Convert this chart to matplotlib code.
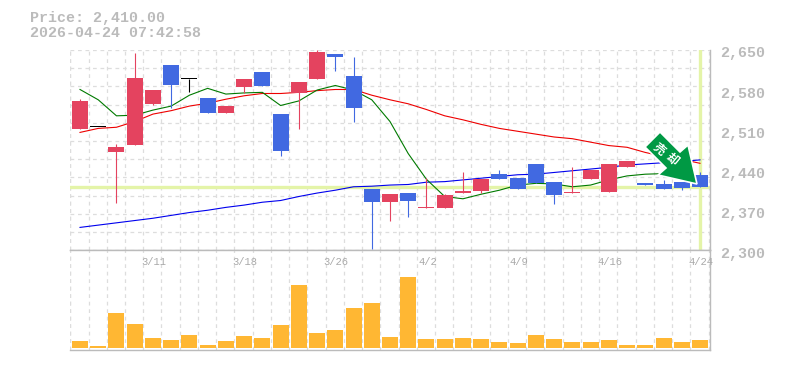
import matplotlib
matplotlib.use("Agg")
import matplotlib.pyplot as plt
from matplotlib.patches import Polygon

# valores
opens = [2512, 2515, 2472, 2484, 2556, 2624, 2600, 2566, 2540, 2585, 2612, 2538, 2575, 2599, 2643, 2605, 2407, 2384, 2400, 2374, 2374, 2400, 2404, 2433, 2426, 2451, 2419, 2400, 2425, 2402, 2446, 2418, 2416, 2419, 2432]
closes = [2561, 2515, 2480, 2601, 2580, 2589, 2600, 2540, 2552, 2599, 2587, 2474, 2594, 2646, 2638, 2549, 2384, 2398, 2386, 2376, 2397, 2403, 2425, 2425, 2407, 2418, 2397, 2402, 2441, 2451, 2456, 2414, 2407, 2409, 2410]
highs = [2564, 2515, 2486, 2645, 2580, 2624, 2600, 2566, 2552, 2599, 2612, 2538, 2594, 2650, 2643, 2638, 2407, 2398, 2400, 2426, 2399, 2437, 2425, 2440, 2426, 2451, 2419, 2446, 2441, 2451, 2456, 2418, 2423, 2419, 2437]
lows = [2512, 2515, 2383, 2484, 2554, 2549, 2577, 2540, 2540, 2575, 2587, 2465, 2512, 2599, 2614, 2524, 2302, 2351, 2358, 2374, 2374, 2400, 2400, 2425, 2407, 2418, 2381, 2400, 2425, 2402, 2446, 2414, 2407, 2405, 2410]
ma_verde = [2581, 2563, 2535, 2536, 2545, 2552, 2571, 2583, 2573, 2575, 2576, 2553, 2561, 2580, 2588, 2580, 2563, 2525, 2469, 2424, 2394, 2390, 2398, 2405, 2414, 2417, 2416, 2411, 2414, 2423, 2430, 2433, 2434, 2433, 2427]
ma_rojo = [2506, 2513, 2515, 2525, 2538, 2544, 2552, 2557, 2564, 2570, 2574, 2574, 2576, 2579, 2581, 2581, 2571, 2563, 2556, 2546, 2535, 2528, 2520, 2513, 2508, 2503, 2498, 2495, 2489, 2483, 2480, 2471, 2464, 2459, 2452]
ma_azul = [2340, 2344, 2348, 2352, 2356, 2361, 2366, 2370, 2375, 2379, 2384, 2387, 2394, 2400, 2405, 2411, 2412, 2414, 2415, 2419, 2420, 2423, 2426, 2429, 2432, 2433, 2436, 2439, 2442, 2445, 2449, 2451, 2453, 2455, 2458]
volumen = [21, 6, 105, 72, 30, 24, 39, 9, 21, 36, 30, 69, 189, 45, 54, 120, 135, 33, 213, 27, 27, 30, 27, 18, 15, 39, 27, 18, 18, 24, 9, 9, 30, 18, 24]
precio_ticks = [2300, 2370, 2440, 2510, 2580, 2650]
fecha_pos = [4, 9, 14, 19, 24, 29, 34]
fecha_labels = ["3/11", "3/18", "3/26", "4/2", "4/9", "4/16", "4/24"]
precio_actual = 2410
ultimo_idx = 34

ROJO = "#E4435F"
AZUL = "#4169E1"
VERDE_CLARO = "#E4F4A8"
GRIS = "#BBBBBB"
GRID = "#DDDDDD"
FUENTE = "Liberation Mono"

W, H = 785, 370
fig = plt.figure(figsize=(W / 100, H / 100), dpi=100)
x0, x1 = 70.3, 710.3
ax = fig.add_axes([x0 / W, 1 - 250.3 / H, (x1 - x0) / W, 200.3 / H])
axv = fig.add_axes([x0 / W, 1 - 350.3 / H, (x1 - x0) / W, 100 / H])

paso = 18.235
xlim = (-9.7 / paso, (x1 - 80) / paso)
grid_x = [xlim[0] + k for k in range(36)]

for a in (ax, axv):
    a.set_xlim(xlim)
    a.set_xticks(grid_x)
    a.tick_params(length=0, labelbottom=False, labelleft=False)
    a.grid(True, axis="x", color=GRID, ls=(0, (3, 3)), lw=0.9)
    a.set_axisbelow(True)
    a.spines["top"].set_visible(False)
    a.spines["left"].set_visible(False)
    a.spines["right"].set_color(GRIS)
    a.spines["bottom"].set_color(GRIS)
    a.spines["right"].set_linewidth(1)
    a.spines["bottom"].set_linewidth(1)
    a.axvline(xlim[0], color=GRID, ls=(0, (3, 3)), lw=0.9, zorder=0)

# panel de precio
ax.set_ylim(2300, 2650)
grid_y = [2300 + 350 * k / 11 for k in range(12)]
ax.set_yticks(grid_y)
ax.grid(True, axis="y", color=GRID, ls=(0, (3, 3)), lw=0.9)

ax.axhline(precio_actual, color=VERDE_CLARO, lw=2.4, zorder=1)
ax.plot([ultimo_idx, ultimo_idx], [2302, 2650], color=VERDE_CLARO, lw=2.4, zorder=1)

ax.plot(range(35), ma_rojo, color="#EE0000", lw=0.8, zorder=2)
ax.plot(range(35), ma_azul, color="#0000EE", lw=0.8, zorder=2)
ax.plot(range(35), ma_verde, color="#007A00", lw=0.8, zorder=2)

for i in range(35):
    if closes[i] > opens[i]:
        c = ROJO
    elif closes[i] < opens[i]:
        c = AZUL
    else:
        c = "black"
    ax.vlines(i, lows[i], highs[i], color=c, lw=0.8, zorder=3)
    alto = max(abs(closes[i] - opens[i]), 1.8)
    ax.bar(i, alto, bottom=min(opens[i], closes[i]), width=16 / paso, color=c, lw=0, zorder=3)

# flecha de senal, en pixeles de la figura
flecha = [(660, 132), (645, 147), (666, 168), (658, 175), (697, 184), (688, 145), (680, 152)]
flecha = [(px, H - py) for px, py in flecha]
fig.add_artist(Polygon(flecha, closed=True, transform=None, facecolor="#009944", edgecolor="white", lw=1.2, zorder=5))
for px, py, t in [(659, 149, "売"), (672, 159, "却")]:
    fig.text(px / W, 1 - py / H, t, color="white", fontsize=8.5, rotation=-40, ha="center", va="center",
             family=["Noto Sans CJK JP", "DejaVu Sans"], fontweight="bold", zorder=6)

# panel de volumen
axv.set_ylim(-7, 294)
axv.set_yticks([])
axv.bar(range(35), volumen, width=16 / paso, color="#FFB733", lw=0, zorder=3)
axv.spines["top"].set_visible(True)
axv.spines["top"].set_color(GRIS)
axv.spines["top"].set_linewidth(1)

for p, t in zip(fecha_pos, fecha_labels):
    axv.annotate(t, xy=(p, 294), xytext=(1, -12), textcoords="offset pixels", ha="center", va="center",
                 color="#AAAAAA", fontsize=7.6, family=FUENTE, annotation_clip=False, zorder=6)

for v in precio_ticks:
    ax.annotate("{:,}".format(v), xy=(1, v), xycoords=("axes fraction", "data"), xytext=(10, -3.5),
                textcoords="offset pixels", ha="left", va="center", color=GRIS, fontsize=10.8,
                family=FUENTE, fontweight="bold", annotation_clip=False)

fig.text(30 / W, 1 - 18 / H, "Price: {:,.2f}".format(precio_actual), color=GRIS, fontsize=10.8,
         family=FUENTE, fontweight="bold", ha="left", va="center")
fig.text(30 / W, 1 - 33 / H, "2026-04-24 07:42:58", color=GRIS, fontsize=10.8,
         family=FUENTE, fontweight="bold", ha="left", va="center")

fig.savefig("out.png", dpi=100)
